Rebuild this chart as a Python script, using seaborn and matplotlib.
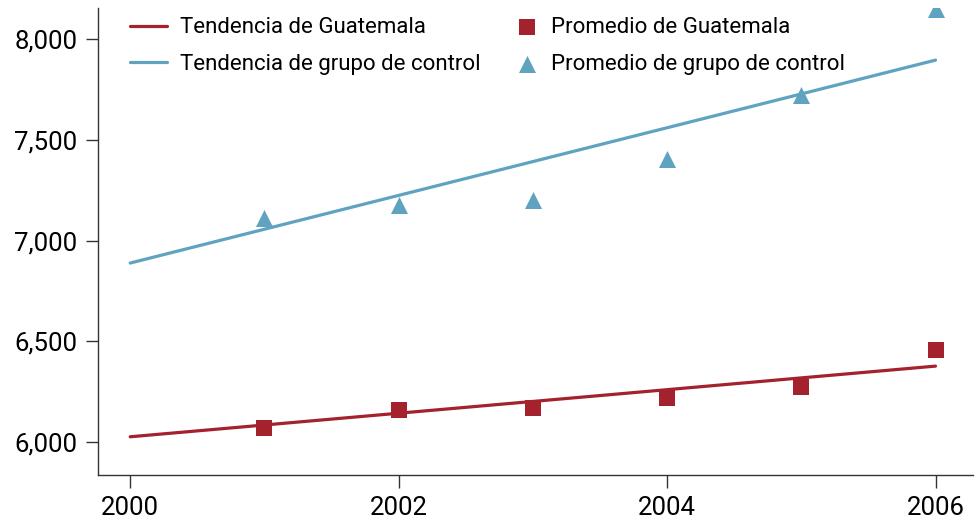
import matplotlib
matplotlib.use("Agg")
import matplotlib.pyplot as plt
import seaborn as sns
import pandas as pd
from matplotlib.ticker import FuncFormatter

sns.set_style("white")
plt.rcParams['font.family'] = ['Roboto', 'DejaVu Sans']
plt.rcParams['font.stretch'] = 'condensed'
plt.rcParams['text.color'] = 'black'

# Data
years = [2001, 2002, 2003, 2004, 2005, 2006]
guatemala_avg = [6070, 6159, 6169, 6218, 6275, 6457]
control_avg = [7112, 7177, 7202, 7405, 7723, 8150]
trend_years = [2000, 2006]
guatemala_trend = [6026, 6377]
control_trend = [6889, 7897]
xticks = [2000, 2002, 2004, 2006]
yticks = [6000, 6500, 7000, 7500, 8000]

RED = "#A3222E"
BLUE = "#5FA3C0"

fig = plt.figure(figsize=(9.77, 5.25), dpi=100)
ax = fig.add_axes([0.1003, 0.0952, 0.8957, 0.8896])

df_tg = pd.DataFrame({"x": trend_years, "y": guatemala_trend})
df_tc = pd.DataFrame({"x": trend_years, "y": control_trend})
df_g = pd.DataFrame({"x": years, "y": guatemala_avg})
df_c = pd.DataFrame({"x": years, "y": control_avg})

sns.lineplot(data=df_tg, x="x", y="y", ax=ax, color=RED, linewidth=2.3,
             label="Tendencia de Guatemala")
sns.lineplot(data=df_tc, x="x", y="y", ax=ax, color=BLUE, linewidth=2.3,
             label="Tendencia de grupo de control")
sns.scatterplot(data=df_g, x="x", y="y", ax=ax, color=RED, marker="s", s=130,
                linewidth=0, label="Promedio de Guatemala", zorder=3)
sns.scatterplot(data=df_c, x="x", y="y", ax=ax, color=BLUE, marker="^", s=150,
                linewidth=0, label="Promedio de grupo de control", zorder=3)

ax.set_xlim(1999.76, 2006.28)
ax.set_ylim(5836, 8156)
ax.set_xticks(xticks)
ax.set_yticks(yticks)
ax.yaxis.set_major_formatter(FuncFormatter(lambda v, p: f"{int(v):,}"))
ax.set_xlabel("")
ax.set_ylabel("")

for s in ["top", "right"]:
    ax.spines[s].set_visible(False)
for s in ["left", "bottom"]:
    ax.spines[s].set_color("#333333")
    ax.spines[s].set_linewidth(1.0)
ax.tick_params(axis="both", which="major", direction="out", length=9, width=1,
               color="#333333", labelsize=18.5, labelcolor="black", pad=6,
               left=True, bottom=True)

handles, labels = ax.get_legend_handles_labels()
fs = 16
leg1 = ax.legend(handles[:2], labels[:2], loc="upper left",
                 bbox_to_anchor=(0.0366, 0.98), frameon=False, fontsize=fs,
                 borderpad=0, borderaxespad=0, handlelength=1.65,
                 handletextpad=0.58, labelspacing=0.7, labelcolor="black")
ax.add_artist(leg1)
leg2 = ax.legend(handles[2:], labels[2:], loc="upper left",
                 bbox_to_anchor=(0.478, 0.98), frameon=False, fontsize=fs,
                 borderpad=0, borderaxespad=0, handlelength=1.0,
                 handletextpad=0.55, labelspacing=0.7, markerscale=1.0,
                 labelcolor="black")

fig.savefig("out.png", dpi=100)
